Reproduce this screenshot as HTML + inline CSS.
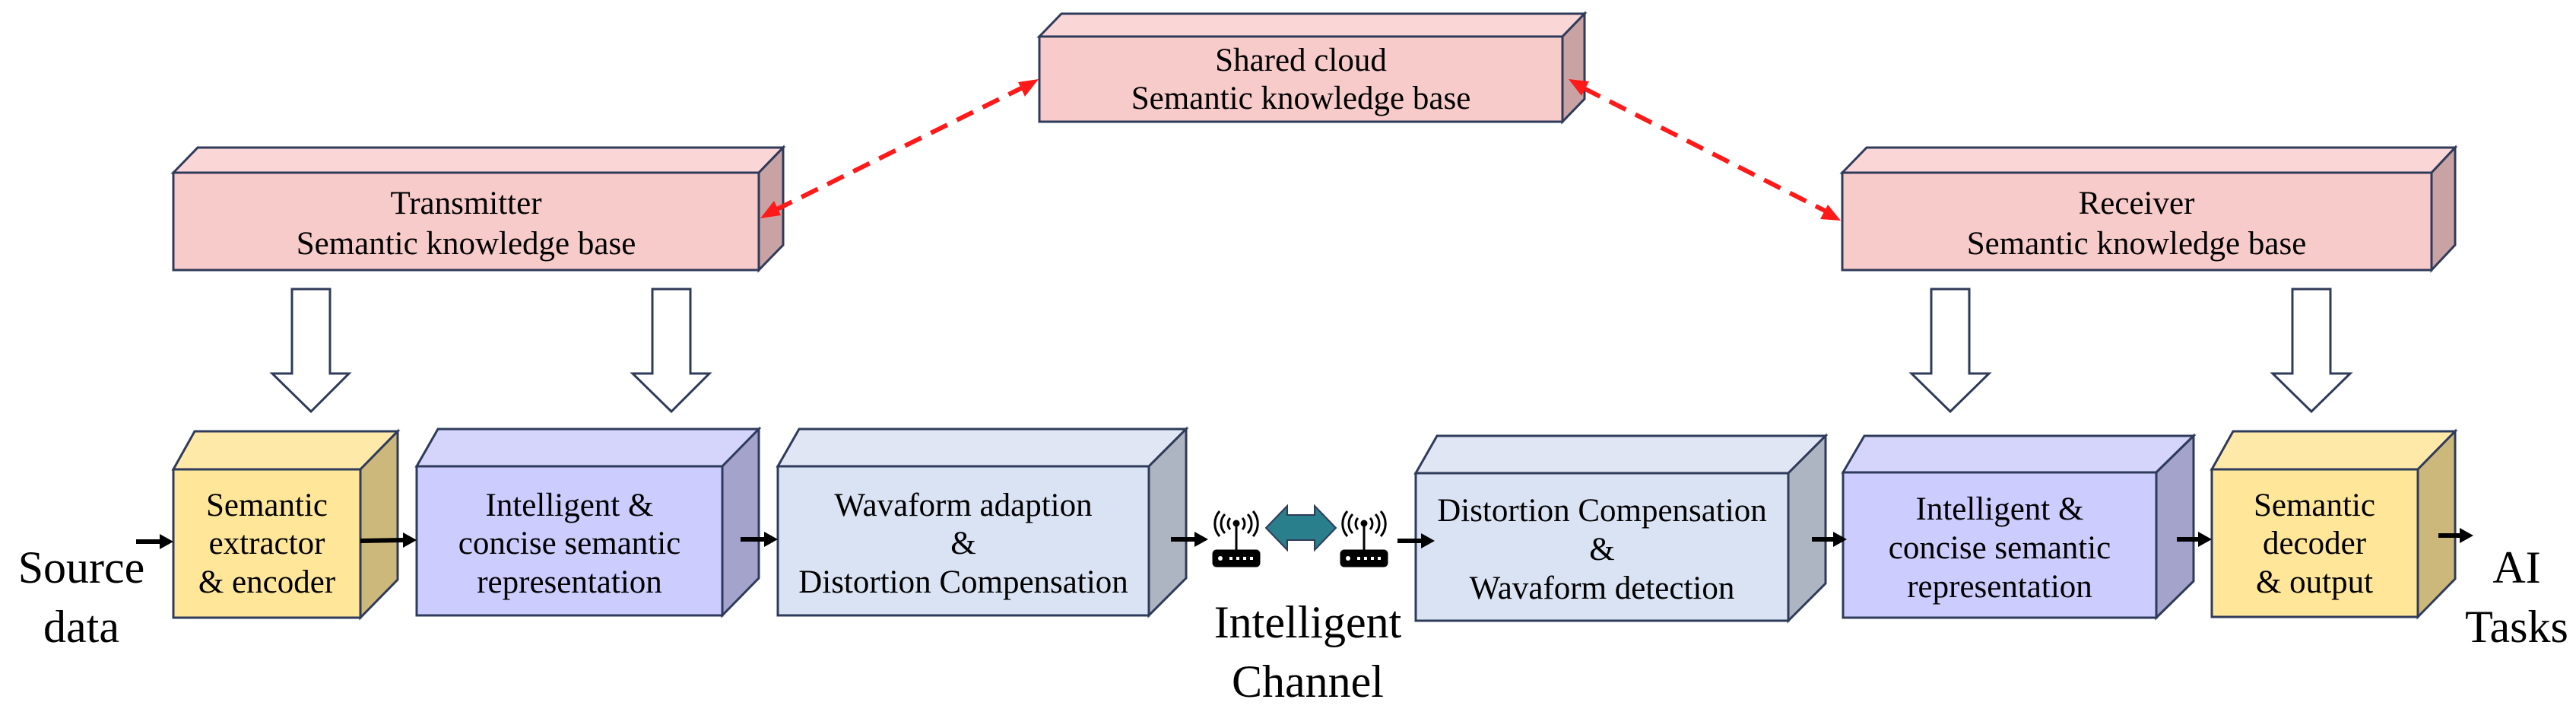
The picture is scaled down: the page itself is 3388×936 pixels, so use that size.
<!DOCTYPE html>
<html><head><meta charset="utf-8"><style>
html,body{margin:0;padding:0;background:#fff;}
svg{display:block;}
svg text{font-family:"Liberation Serif","Times New Roman","DejaVu Serif",serif;fill:#000;}
</style></head><body>
<svg width="3388" height="936" viewBox="0 0 3388 936" xmlns="http://www.w3.org/2000/svg">
<g stroke="#2f3b5a" stroke-width="3" stroke-linejoin="miter">
<polygon points="1367,48 1396,18 2084,18 2055,48" fill="#fad6d6"/>
<polygon points="2055,48 2084,18 2084,130 2055,160" fill="#c9a3a3"/>
<rect x="1367" y="48" width="688" height="112" fill="#f8cbcb"/>
<polygon points="228,227 260,194 1030,194 998,227" fill="#fad6d6"/>
<polygon points="998,227 1030,194 1030,322 998,355" fill="#c9a3a3"/>
<rect x="228" y="227" width="770" height="128" fill="#f8cbcb"/>
<polygon points="2423,227 2455,194 3229,194 3198,227" fill="#fad6d6"/>
<polygon points="3198,227 3229,194 3229,322 3198,355" fill="#c9a3a3"/>
<rect x="2423" y="227" width="775" height="128" fill="#f8cbcb"/>

<polygon points="384,380 434,380 434,491 459,491 409,541 358,491 384,491" fill="#fff"/>
<polygon points="858,380 908,380 908,491 933,491 883,541 832,491 858,491" fill="#fff"/>
<polygon points="2540,380 2590,380 2590,491 2616,491 2565,541 2514,491 2540,491" fill="#fff"/>
<polygon points="3015,380 3065,380 3065,491 3091,491 3040,541 2989,491 3015,491" fill="#fff"/>

<polygon points="228,617 256,567 523,567 474,617" fill="#ffe9a8"/>
<polygon points="474,617 523,567 523,762 474,812" fill="#ccb87a"/>
<rect x="228" y="617" width="246" height="195" fill="#ffe699"/>
<polygon points="548,613 576,564 998,564 950,613" fill="#d5d5fb"/>
<polygon points="950,613 998,564 998,760 950,809" fill="#a3a3cc"/>
<rect x="548" y="613" width="402" height="196" fill="#ccccff"/>
<polygon points="1023,613 1051,564 1560,564 1511,613" fill="#e0e6f3"/>
<polygon points="1511,613 1560,564 1560,760 1511,809" fill="#aeb5c2"/>
<rect x="1023" y="613" width="488" height="196" fill="#dae3f3"/>
<polygon points="1862,622 1890,573 2401,573 2352,622" fill="#e0e6f3"/>
<polygon points="2352,622 2401,573 2401,767 2352,816" fill="#aeb5c2"/>
<rect x="1862" y="622" width="490" height="194" fill="#dae3f3"/>
<polygon points="2424,621 2452,573 2885,573 2836,621" fill="#d5d5fb"/>
<polygon points="2836,621 2885,573 2885,764 2836,812" fill="#a3a3cc"/>
<rect x="2424" y="621" width="412" height="191" fill="#ccccff"/>
<polygon points="2909,617 2937,567 3229,567 3180,617" fill="#ffe9a8"/>
<polygon points="3180,617 3229,567 3229,761 3180,811" fill="#ccb87a"/>
<rect x="2909" y="617" width="271" height="194" fill="#ffe699"/>
</g>

<polygon points="1665,694 1693,665 1693,677 1729,677 1729,665 1757,694 1729,723 1729,710 1693,710 1693,723" fill="#2a7f8c" stroke="#2f3b5a" stroke-width="2"/>

<g fill="none" stroke="#000" stroke-width="3">
<line x1="1626" y1="690" x2="1626" y2="724"/>
<circle cx="1626" cy="688" r="3" fill="#000"/>
<path d="M1618,681 a11,11 0 0 0 0,15 M1634,681 a11,11 0 0 1 0,15"/>
<path d="M1611,676 a18,18 0 0 0 0,25 M1641,676 a18,18 0 0 1 0,25"/>
<path d="M1604,672 a25,25 0 0 0 0,33 M1648,672 a25,25 0 0 1 0,33"/>
<rect x="1596" y="724" width="60" height="20" rx="4" fill="#000"/>
</g>
<g fill="#fff"><circle cx="1605" cy="734" r="3"/><rect x="1617" y="732" width="4" height="4"/><rect x="1626" y="732" width="4" height="4"/><rect x="1635" y="732" width="4" height="4"/><rect x="1644" y="732" width="4" height="4"/></g>
<g fill="none" stroke="#000" stroke-width="3">
<line x1="1794" y1="690" x2="1794" y2="724"/>
<circle cx="1794" cy="688" r="3" fill="#000"/>
<path d="M1786,681 a11,11 0 0 0 0,15 M1802,681 a11,11 0 0 1 0,15"/>
<path d="M1779,676 a18,18 0 0 0 0,25 M1809,676 a18,18 0 0 1 0,25"/>
<path d="M1772,672 a25,25 0 0 0 0,33 M1816,672 a25,25 0 0 1 0,33"/>
<rect x="1764" y="724" width="60" height="20" rx="4" fill="#000"/>
</g>
<g fill="#fff"><circle cx="1773" cy="734" r="3"/><rect x="1785" y="732" width="4" height="4"/><rect x="1794" y="732" width="4" height="4"/><rect x="1803" y="732" width="4" height="4"/><rect x="1812" y="732" width="4" height="4"/></g>

<g stroke="#000" stroke-width="6" fill="#000">
<line x1="179" y1="712" x2="212" y2="712"/><polygon points="210,702 228,712 210,722" stroke="none"/>
<line x1="474" y1="711" x2="532" y2="710"/><polygon points="530,700 548,710 530,720" stroke="none"/>
<line x1="974" y1="709" x2="1007" y2="709"/><polygon points="1005,699 1023,709 1005,719" stroke="none"/>
<line x1="1540" y1="709" x2="1573" y2="709"/><polygon points="1571,699 1589,709 1571,719" stroke="none"/>
<line x1="1838" y1="711" x2="1871" y2="711"/><polygon points="1869,701 1887,711 1869,721" stroke="none"/>
<line x1="2383" y1="709" x2="2413" y2="709"/><polygon points="2411,699 2429,709 2411,719" stroke="none"/>
<line x1="2863" y1="709" x2="2893" y2="709"/><polygon points="2891,699 2909,709 2891,719" stroke="none"/>
<line x1="3207" y1="704" x2="3237" y2="704"/><polygon points="3235,694 3253,704 3235,714" stroke="none"/>
</g>

<g stroke="#ff1a1a" stroke-width="6" stroke-dasharray="24,14" fill="none">
<line x1="1020" y1="276" x2="1345" y2="115"/>
<line x1="2083" y1="116" x2="2402" y2="278"/>
</g>
<g fill="#ff1a1a">
<polygon points="1000,287 1018,264 1027,283"/>
<polygon points="1366,104 1348,127 1339,108"/>
<polygon points="2063,104 2090,107 2080,126"/>
<polygon points="2421,290 2394,288 2404,269"/>
</g>

<g font-size="43" text-anchor="middle" font-family="Liberation Serif, Times New Roman, DejaVu Serif, serif">
<text x="1711" y="93">Shared cloud</text>
<text x="1711" y="143">Semantic knowledge base</text>
<text x="613" y="281">Transmitter</text>
<text x="613" y="334">Semantic knowledge base</text>
<text x="2810" y="281">Receiver</text>
<text x="2810" y="334">Semantic knowledge base</text>

<text x="351" y="678">Semantic</text>
<text x="351" y="728">extractor</text>
<text x="351" y="779">&amp; encoder</text>

<text x="749" y="678">Intelligent &amp;</text>
<text x="749" y="728">concise semantic</text>
<text x="749" y="779">representation</text>

<text x="1267" y="678">Wavaform adaption</text>
<text x="1267" y="728">&amp;</text>
<text x="1267" y="779">Distortion Compensation</text>

<text x="2107" y="685">Distortion Compensation</text>
<text x="2107" y="736">&amp;</text>
<text x="2107" y="787">Wavaform detection</text>

<text x="2630" y="683">Intelligent &amp;</text>
<text x="2630" y="734">concise semantic</text>
<text x="2630" y="785">representation</text>

<text x="3044" y="678">Semantic</text>
<text x="3044" y="728">decoder</text>
<text x="3044" y="779">&amp; output</text>
</g>
<g font-size="60" text-anchor="middle" font-family="Liberation Serif, Times New Roman, DejaVu Serif, serif">
<text x="107" y="766">Source</text>
<text x="107" y="844">data</text>
<text x="1720" y="838">Intelligent</text>
<text x="1720" y="916">Channel</text>
<text x="3310" y="766">AI</text>
<text x="3310" y="844">Tasks</text>
</g>
</svg>
</body></html>
